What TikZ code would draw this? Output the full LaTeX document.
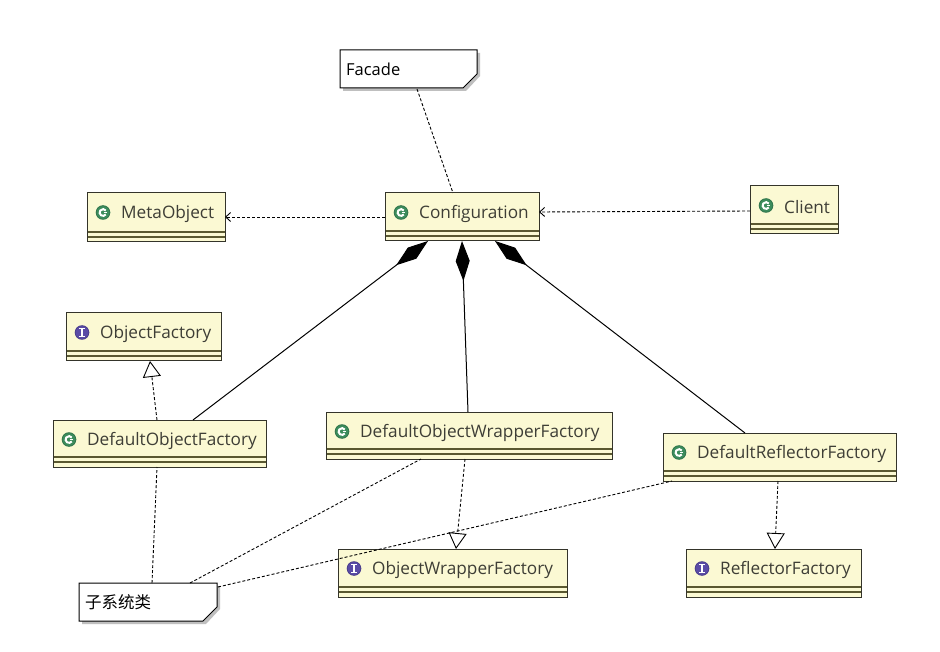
\documentclass[tikz,border=0pt]{standalone}
\usepackage{fontspec}
\setmainfont{Open Sans}
\newfontfamily\cjk{Noto Sans CJK SC}
\usetikzlibrary{arrows.meta,calc}
\definecolor{clsfill}{HTML}{FBF9D3}
\definecolor{clsborder}{HTML}{34342A}
\definecolor{clsline}{HTML}{5A5830}
\definecolor{txtcol}{HTML}{3E3E36}
\definecolor{ciconcol}{HTML}{3C8C5C}
\definecolor{iiconcol}{HTML}{5A4BA6}
\tikzset{
  clsbox/.style={draw=clsborder, fill=clsfill, line width=1pt, inner sep=0pt, outer sep=0pt, anchor=north west},
  notebox/.style={inner sep=0pt, outer sep=0pt, anchor=north west},
  clstext/.style={anchor=west, inner sep=0pt, text=txtcol, font=\fontsize{17.2}{20}\selectfont},
  notetext/.style={anchor=west, inner sep=0pt, text=black, font=\fontsize{16.5}{20}\selectfont},
  dashline/.style={draw=black, line width=0.9pt, dash pattern=on 3pt off 2pt},
  dep/.style={dashline, -{Straight Barb[length=5pt,width=9pt,line width=0.9pt]}},
  real/.style={dashline, -{Triangle[open,length=16pt,width=18pt,fill=white,line width=0.9pt]}},
  comp/.style={draw=black, line width=1pt, {Diamond[length=40pt,width=14pt,fill=black]}-},
}
\newcommand\ciconat[1]{%
  \fill[ciconcol!85!black] #1 circle (7.3);
  \fill[ciconcol] #1 circle (6.3);
  \draw[white, line width=2pt] #1 ++(35:3.4) arc[start angle=35, end angle=325, radius=3.4];
  \draw[white, line width=1.6pt] #1 ++(0.5,0) -- ++(3.2,0);}
\newcommand\iiconat[1]{%
  \fill[iiconcol!85!black] #1 circle (7.3);
  \fill[iiconcol] #1 circle (6.3);
  \draw[white, line width=2pt] #1 ++(0,-3.6) -- ++(0,7.2);
  \draw[white, line width=1.4pt] #1 ++(-2.8,-3.8) -- ++(5.6,0);
  \draw[white, line width=1.4pt] #1 ++(-2.8,3.8) -- ++(5.6,0);}
\newcommand\umlclass[7]{%
  \node[clsbox, minimum width={(#4-#2)*1pt}, minimum height={(#5-#3)*1pt}] (#1) at (#2,#3) {};
  \draw[clsline, line width=1.2pt] ($(#1.south west)+(0.5,-10)$) -- ($(#1.south east)+(-0.5,-10)$);
  \draw[clsline, line width=1.2pt] ($(#1.south west)+(0.5,-5)$) -- ($(#1.south east)+(-0.5,-5)$);
  #6{($(#1.north west)+(16,19.5)$)}
  \node[clstext] (#1-label) at ($(#1.north west)+(34,21)$) {#7};}
\newcommand\umlnote[6]{%
  \node[notebox, minimum width={(#4-#2)*1pt}, minimum height={(#5-#3)*1pt}] (#1) at (#2,#3) {};
  \fill[black!25] ($(#1.north west)+(3,3)$) -- ($(#1.north east)+(3,3)$) -- ($(#1.south east)+(3,-12)$) -- ($(#1.south east)+(-11,3)$) -- ($(#1.south west)+(3,3)$) -- cycle;
  \draw[black, fill=white, line width=1pt] (#1.north west) -- (#1.north east) -- ($(#1.south east)+(0,-14)$) -- ($(#1.south east)+(-14,0)$) -- (#1.south west) -- cycle;
  \node[notetext] (#1-label) at ($(#1.west)+(6,0)$) {#6};}
\begin{document}
\begin{tikzpicture}[x=1pt, y=-1pt]
\fill[white] (0,0) rectangle (940,652);
\useasboundingbox (0,0) rectangle (940,652);
% notes
\umlnote{facade}{340}{50}{477}{88}{Facade}
\umlnote{subsys}{79}{583}{217}{621}{\cjk 子系统类}
% classes
\umlclass{cfg}{385}{193}{539}{241}{\ciconat}{Configuration}
\umlclass{meta}{87}{193}{225}{242}{\ciconat}{MetaObject}
\umlclass{client}{750}{186}{838}{234}{\ciconat}{Client}
\umlclass{of}{66}{313}{221}{361}{\iiconat}{ObjectFactory}
\umlclass{dof}{53}{420}{266}{467}{\ciconat}{DefaultObjectFactory}
\umlclass{dowf}{326}{412}{612}{459}{\ciconat}{DefaultObjectWrapperFactory}
\umlclass{owf}{338}{549}{567}{597}{\iiconat}{ObjectWrapperFactory}
\umlclass{drf}{663}{433}{896}{481}{\ciconat}{DefaultReflectorFactory}
\umlclass{rf}{686}{549}{861}{597}{\iiconat}{ReflectorFactory}
% connectors
\draw[dashline] ($(facade.south west)+(77,1)$) -- ($(cfg.north west)+(68,0)$);
\draw[dep] (cfg.west) -- (cfg.west -| meta.east);
\draw[dep] ($(client.west)+(0,1)$) -- ($(cfg.east)+(0,-5)$);
\draw[comp] ($(cfg.south west)+(43,0)$) -- ($(dof.north west)+(140,0)$);
\draw[comp] ($(cfg.south west)+(77,0)$) -- ($(dowf.north west)+(142,0)$);
\draw[comp] ($(cfg.south west)+(110,0)$) -- ($(drf.north west)+(82,0)$);
\draw[real] ($(dof.north west)+(104,0)$) -- ($(of.south west)+(84,0)$);
\draw[real] ($(dowf.south west)+(139,0)$) -- ($(owf.north west)+(118,0)$);
\draw[real] ($(drf.south west)+(115,0)$) -- ($(rf.north west)+(89,0)$);
\draw[dashline] ($(subsys.north west)+(73,0)$) -- ($(dof.south west)+(104,0)$);
\draw[dashline] ($(subsys.north west)+(111,0)$) -- ($(dowf.south west)+(95,0)$);
\draw[dashline] ($(subsys.north east)+(1,4)$) -- ($(drf.south west)+(9,0)$);
\end{tikzpicture}
\end{document}
